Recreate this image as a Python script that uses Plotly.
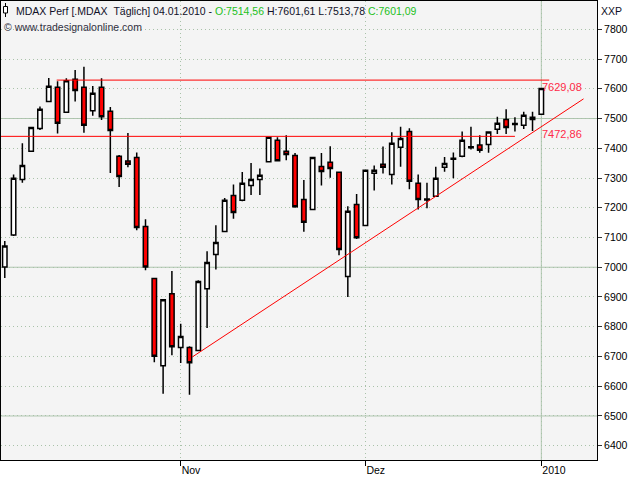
import plotly.graph_objects as go

# ---- data -------------------------------------------------------------
dates = [
    "2009-10-05", "2009-10-06", "2009-10-07", "2009-10-08", "2009-10-09",
    "2009-10-12", "2009-10-13", "2009-10-14", "2009-10-15", "2009-10-16",
    "2009-10-19", "2009-10-20", "2009-10-21", "2009-10-22", "2009-10-23",
    "2009-10-26", "2009-10-27", "2009-10-28", "2009-10-29", "2009-10-30",
    "2009-11-02", "2009-11-03", "2009-11-04", "2009-11-05", "2009-11-06",
    "2009-11-09", "2009-11-10", "2009-11-11", "2009-11-12", "2009-11-13",
    "2009-11-16", "2009-11-17", "2009-11-18", "2009-11-19", "2009-11-20",
    "2009-11-23", "2009-11-24", "2009-11-25", "2009-11-26", "2009-11-27",
    "2009-11-30",
    "2009-12-01", "2009-12-02", "2009-12-03", "2009-12-04",
    "2009-12-07", "2009-12-08", "2009-12-09", "2009-12-10", "2009-12-11",
    "2009-12-14", "2009-12-15", "2009-12-16", "2009-12-17", "2009-12-18",
    "2009-12-21", "2009-12-22", "2009-12-23",
    "2009-12-28", "2009-12-29", "2009-12-30",
    "2010-01-04",
]
opens = [7001, 7108, 7295, 7390, 7466, 7557, 7605, 7521, 7632, 7605,
         7526, 7605, 7524, 7373, 7357, 7369, 7137, 6962, 6669, 6911,
         6730, 6730, 6720, 6928, 7043, 7120, 7241, 7225, 7275, 7295,
         7355, 7427, 7390, 7376, 7228, 7194, 7339, 7353, 7319, 6969,
         7211, 7140, 7316, 7346, 7312, 7403, 7456, 7282, 7226, 7239,
         7336, 7363, 7373, 7402, 7411, 7413, 7464, 7497, 7480, 7477,
         7497, 7514.56]
highs = [7088, 7312, 7417, 7472, 7540, 7636, 7625, 7635, 7663, 7674,
         7609, 7635, 7539, 7377, 7451, 7386, 7161, 6965, 6893, 6987,
         6810, 6734, 6956, 7054, 7141, 7233, 7278, 7320, 7350, 7332,
         7437, 7437, 7444, 7384, 7293, 7369, 7384, 7407, 7320, 7205,
         7246, 7326, 7342, 7406, 7454, 7472, 7467, 7312, 7284, 7338,
         7371, 7386, 7456, 7472, 7444, 7456, 7506, 7531, 7504, 7523,
         7523, 7601.61]
lows = [6964, 7105, 7284, 7388, 7461, 7555, 7450, 7519, 7557, 7452,
        7509, 7495, 7317, 7270, 7336, 7124, 6990, 6681, 6575, 6704,
        6678, 6571, 6718, 6796, 6992, 7118, 7163, 7222, 7243, 7243,
        7352, 7356, 7360, 7200, 7119, 7192, 7275, 7301, 7040, 6900,
        7095, 7138, 7258, 7315, 7278, 7338, 7262, 7194, 7198, 7236,
        7321, 7299, 7370, 7396, 7385, 7385, 7448, 7448, 7456, 7465,
        7458, 7513.78]
closes = [7071, 7299, 7342, 7470, 7531, 7608, 7484, 7627, 7594, 7477,
          7585, 7506, 7460, 7305, 7346, 7134, 7001, 6701, 6891, 6733,
          6767, 6679, 6952, 7016, 7083, 7225, 7184, 7282, 7295, 7309,
          7437, 7358, 7379, 7203, 7151, 7369, 7322, 7332, 7060, 7188,
          7099, 7326, 7326, 7336, 7417, 7433, 7289, 7228, 7229, 7299,
          7349, 7366, 7427, 7405, 7393, 7455, 7484, 7470, 7483, 7511,
          7504, 7601.09]

tick_dates = ["2009-11-02", "2009-12-01", "2010-01-04"]
tick_labels = ["Nov", "Dez", "2010"]
year_break_date = "2010-01-04"
major_levels = [6500, 7000, 7500]

resistance_level = 7629.08
resistance_span = [5.9, 61.9]          # bar positions
support_level = 7440
support_span = [-0.43, 58.0]
trend_x = [21.3, 65.8]                  # bar positions
trend_y = [6698, 7566]
trend_label_value = 7472.86

title_text = "MDAX Perf [.MDAX\u00a0\u00a0Täglich] 04.01.2010"
source_text = "© www.tradesignalonline.com"
unit_text = "XXP"

# ---- figure -----------------------------------------------------------
FONT = "Tahoma, 'Liberation Sans', Arial, sans-serif"
pos = list(range(len(dates)))
RED = "#ff0000"
GRID = "#a9c2a9"
MAJOR = "#b0c6b0"

def de(v):
    return f"{v:.2f}".replace(".", ",")

fig = go.Figure()

fig.add_trace(go.Candlestick(
    x=pos, open=opens, high=highs, low=lows, close=closes,
    increasing=dict(fillcolor="#ffffff", line=dict(color="#000000", width=1.5)),
    decreasing=dict(fillcolor="#ff0000", line=dict(color="#000000", width=1.5)),
    whiskerwidth=0, hoverinfo="skip", showlegend=False,
))

fig.add_trace(go.Scatter(x=resistance_span, y=[resistance_level] * 2, mode="lines",
                         line=dict(color=RED, width=1), showlegend=False, hoverinfo="skip"))
fig.add_trace(go.Scatter(x=support_span, y=[support_level] * 2, mode="lines",
                         line=dict(color=RED, width=1), showlegend=False, hoverinfo="skip"))
fig.add_trace(go.Scatter(x=trend_x, y=trend_y, mode="lines",
                         line=dict(color=RED, width=1), showlegend=False, hoverinfo="skip"))

for lv in major_levels:
    fig.add_hline(y=lv, line=dict(color=MAJOR, width=1), layer="below")
fig.add_vline(x=dates.index(year_break_date), line=dict(color=MAJOR, width=1), layer="below")

# right-hand value labels
last = len(dates) - 1
for val in [resistance_level, trend_label_value]:
    fig.add_annotation(x=last - 0.15, y=val, xref="x", yref="y", text=de(val),
                       showarrow=False, xanchor="left", yanchor="top", yshift=1,
                       font=dict(family=FONT, size=11, color="#ff2a48"))

# header
hdr = (f"{title_text} - <span style='color:#22c022'>O:{de(opens[-1])}</span> "
       f"H:{de(highs[-1])} L:{de(lows[-1])} "
       f"<span style='color:#22c022'>C:{de(closes[-1])}</span>")
fig.add_annotation(x=0, y=1, xref="paper", yref="paper", text=hdr, showarrow=False,
                   xanchor="left", yanchor="top", xshift=13, yshift=-2,
                   font=dict(family=FONT, size=10.5, color="#101028"))
fig.add_annotation(x=0, y=1, xref="paper", yref="paper", text=source_text, showarrow=False,
                   xanchor="left", yanchor="top", xshift=1, yshift=-18,
                   font=dict(family=FONT, size=10.5, color="#303040"))
fig.add_annotation(x=1, y=1, xref="paper", yref="paper", text=unit_text, showarrow=False,
                   xanchor="left", yanchor="top", xshift=2, yshift=-2,
                   font=dict(family=FONT, size=10.5, color="#101028"))

# small candle icon in the header
W, H, L, T = 640, 480, 1, 1
PW, PH = 596, 459
def px(x):
    return (x - L) / PW
def py(y):
    return 1 - (y - T) / PH
fig.add_shape(type="line", xref="paper", yref="paper", x0=px(5.5), x1=px(5.5),
              y0=py(3), y1=py(17), line=dict(color="#000000", width=1))
fig.add_shape(type="rect", xref="paper", yref="paper", x0=px(3.5), x1=px(7.5),
              y0=py(6.5), y1=py(13), line=dict(color="#000000", width=1),
              fillcolor="#ffffff")

fig.update_layout(
    width=W, height=H, template="none",
    margin=dict(l=L, r=W - L - PW, t=T, b=H - T - PH, autoexpand=False),
    paper_bgcolor="#ffffff", plot_bgcolor="#f4f4f4",
    showlegend=False, boxgap=0.28,
    font=dict(family=FONT, size=10.5, color="#000000"),
    xaxis=dict(
        type="linear", range=[-0.43, 67.33], rangeslider=dict(visible=False),
        tickvals=[dates.index(d) for d in tick_dates], ticktext=tick_labels,
        ticks="outside", ticklen=5, tickcolor="#000000", tickwidth=1,
        ticklabelposition="outside right",
        showgrid=True, gridcolor=GRID, griddash="1px,3px", gridwidth=1,
        showline=True, linecolor="#000000", linewidth=1, mirror=True,
        zeroline=False, automargin=False, fixedrange=True,
        tickfont=dict(family=FONT, size=10.5, color="#000000"),
    ),
    yaxis=dict(
        side="right", range=[6352, 7895], dtick=100, tick0=0, tickformat="d",
        ticks="outside", ticklen=4, tickcolor="#333333", tickwidth=1,
        showgrid=True, gridcolor=GRID, griddash="1px,3px", gridwidth=1,
        showline=True, linecolor="#000000", linewidth=1, mirror=True,
        zeroline=False, automargin=False, fixedrange=True,
        tickfont=dict(family=FONT, size=10.5, color="#000000"),
    ),
)

fig.write_html("out.html", config={"displayModeBar": False},
               post_script="document.body.style.margin='0';document.body.style.overflow='hidden';")
